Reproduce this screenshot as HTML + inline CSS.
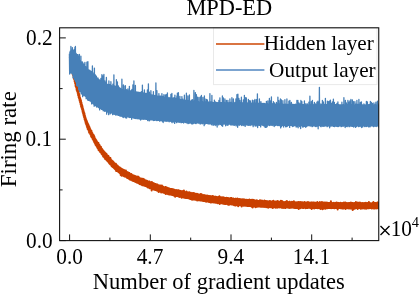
<!DOCTYPE html>
<html><head><meta charset="utf-8"><title>MPD-ED</title>
<style>
html,body{margin:0;padding:0;background:#fff;}
body{width:419px;height:294px;overflow:hidden;font-family:"Liberation Serif",serif;}
svg{display:block;position:absolute;left:0;top:0;will-change:transform;}
text{font-family:"Liberation Serif",serif;fill:#000;}
</style></head><body>
<svg width="419" height="294" viewBox="0 0 419 294">
<rect x="0" y="0" width="419" height="294" fill="#fff"/>
<defs><clipPath id="ax"><rect x="59.6" y="27.8" width="319.15" height="212.79999999999998"/></clipPath></defs>
<g clip-path="url(#ax)">
<path d="M69.90,56.6L70.15,61.5L70.40,58.6L70.65,64.4L70.90,60.6L71.15,66.3L71.40,63.3L71.65,68.2L71.90,65.5L72.15,70.5L72.40,67.6L72.65,74.3L72.90,69.9L73.15,75.4L73.40,72.3L73.65,77.6L73.90,74.4L74.15,79.2L74.40,75.8L74.65,81.5L74.90,78.2L75.15,83.4L75.40,80.0L75.65,86.3L75.90,82.0L76.15,87.4L76.40,84.2L76.65,90.0L76.90,85.7L77.15,91.2L77.40,88.1L77.65,93.0L77.90,89.8L78.15,95.3L78.40,91.6L78.65,97.1L78.90,93.3L79.15,98.7L79.40,95.1L79.65,100.7L79.90,97.4L80.15,102.4L80.40,98.9L80.65,104.4L80.90,100.2L81.15,106.7L81.40,102.4L81.65,107.9L81.90,104.6L82.15,109.8L82.40,106.0L82.65,111.9L82.90,108.3L83.15,113.6L83.40,110.0L83.65,115.6L83.90,112.1L84.15,117.5L84.40,113.2L84.65,119.4L84.90,115.6L85.15,120.9L85.40,117.3L85.65,123.0L85.90,118.9L86.15,124.3L86.40,120.3L86.65,125.6L86.90,121.3L87.15,127.2L87.40,122.7L87.65,128.9L87.90,123.8L88.15,129.4L88.40,124.7L88.65,130.8L88.90,126.0L89.15,132.6L89.40,127.0L89.65,132.7L89.90,128.3L90.15,134.0L90.40,129.4L90.65,134.7L90.90,130.4L91.15,136.4L91.40,130.8L91.65,137.1L91.90,132.4L92.15,137.8L92.40,133.2L92.65,138.9L92.90,134.4L93.15,139.7L93.40,134.8L93.65,140.8L93.90,135.6L94.15,141.9L94.40,136.8L94.65,142.6L94.90,138.2L95.15,143.6L95.40,139.0L95.65,144.9L95.90,139.8L96.15,145.5L96.40,140.6L96.65,146.3L96.90,141.6L97.15,147.1L97.40,142.3L97.65,148.2L97.90,142.9L98.15,148.6L98.40,142.9L98.65,150.1L98.90,144.4L99.15,150.5L99.40,144.8L99.65,151.0L99.90,146.0L100.15,151.9L100.40,146.6L100.65,152.3L100.90,146.8L101.15,152.9L101.40,148.2L101.65,154.0L101.90,148.8L102.15,154.4L102.40,149.6L102.65,155.0L102.90,150.2L103.15,156.4L103.40,150.8L103.65,156.2L103.90,151.4L104.15,157.1L104.40,152.0L104.65,157.9L104.90,152.5L105.15,159.0L105.40,153.1L105.65,159.2L105.90,153.6L106.15,159.3L106.40,153.7L106.65,160.1L106.90,154.9L107.15,160.6L107.40,155.2L107.65,161.1L107.90,156.3L108.15,161.7L108.40,155.9L108.65,162.2L108.90,157.2L109.15,163.1L109.40,157.4L109.65,163.6L109.90,158.5L110.15,164.3L110.40,158.0L110.65,164.6L110.90,159.6L111.15,165.0L111.40,160.2L111.65,166.3L111.90,160.6L112.15,166.2L112.40,161.1L112.65,166.9L112.90,161.7L113.15,167.2L113.40,161.8L113.65,167.6L113.90,162.7L114.15,168.2L114.40,163.1L114.65,168.7L114.90,163.7L115.15,169.1L115.40,164.1L115.65,169.6L115.90,163.8L116.15,170.9L116.40,164.8L116.65,171.0L116.90,165.2L117.15,170.9L117.40,165.5L117.65,171.2L117.90,166.1L118.15,171.7L118.40,166.7L118.65,172.1L118.90,167.0L119.15,172.5L119.40,167.3L119.65,173.0L119.90,167.5L120.15,173.1L120.40,168.0L120.65,175.0L120.90,168.3L121.15,175.3L121.40,168.8L121.65,175.8L121.90,169.1L122.15,175.4L122.40,169.4L122.65,174.8L122.90,169.5L123.15,175.6L123.40,169.8L123.65,176.0L123.90,169.9L124.15,175.9L124.40,170.7L124.65,176.6L124.90,170.6L125.15,176.6L125.40,170.8L125.65,176.6L125.90,170.5L126.15,176.9L126.40,171.8L126.65,177.3L126.90,171.9L127.15,177.9L127.40,172.4L127.65,177.8L127.90,172.3L128.15,178.3L128.40,172.7L128.65,178.3L128.90,173.1L129.15,178.9L129.40,173.0L129.65,178.9L129.90,173.7L130.15,179.7L130.40,174.0L130.65,179.6L130.90,174.2L131.15,179.7L131.40,174.1L131.65,179.9L131.90,174.7L132.15,180.4L132.40,174.9L132.65,180.7L132.90,175.2L133.15,180.6L133.40,175.5L133.65,181.1L133.90,175.4L134.15,181.0L134.40,176.0L134.65,181.4L134.90,176.1L135.15,181.7L135.40,176.3L135.65,182.0L135.90,176.3L136.15,182.1L136.40,176.7L136.65,182.5L136.90,177.0L137.15,182.7L137.40,177.2L137.65,182.7L137.90,176.6L138.15,183.0L138.40,177.4L138.65,183.2L138.90,177.2L139.15,183.3L139.40,178.1L139.65,184.1L139.90,178.2L140.15,184.2L140.40,178.4L140.65,184.0L140.90,178.6L141.15,184.3L141.40,178.7L141.65,184.6L141.90,178.7L142.15,185.3L142.40,179.1L142.65,185.2L142.90,178.8L143.15,185.0L143.40,179.8L143.65,185.3L143.90,179.4L144.15,185.6L144.40,179.5L144.65,185.7L144.90,180.3L145.15,185.9L145.40,180.6L145.65,185.9L145.90,180.6L146.15,186.3L146.40,181.0L146.65,186.4L146.90,180.7L147.15,186.8L147.40,181.4L147.65,187.1L147.90,181.4L148.15,187.6L148.40,181.7L148.65,187.2L148.90,181.5L149.15,187.5L149.40,181.5L149.65,188.2L149.90,182.1L150.15,188.3L150.40,182.5L150.65,188.2L150.90,182.6L151.15,188.5L151.40,182.6L151.65,190.4L151.90,182.0L152.15,188.7L152.40,183.0L152.65,188.8L152.90,183.0L153.15,188.8L153.40,183.4L153.65,189.5L153.90,183.3L154.15,189.8L154.40,184.1L154.65,189.8L154.90,184.1L155.15,189.8L155.40,184.0L155.65,190.1L155.90,184.6L156.15,190.0L156.40,184.7L156.65,190.4L156.90,184.2L157.15,190.3L157.40,184.5L157.65,190.5L157.90,185.2L158.15,191.1L158.40,185.4L158.65,191.9L158.90,185.2L159.15,191.2L159.40,185.6L159.65,191.6L159.90,185.8L160.15,191.4L160.40,185.4L160.65,191.5L160.90,186.1L161.15,192.5L161.40,185.7L161.65,191.9L161.90,185.4L162.15,192.1L162.40,186.5L162.65,192.3L162.90,186.9L163.15,192.5L163.40,186.7L163.65,192.7L163.90,187.2L164.15,192.6L164.40,187.4L164.65,192.9L164.90,187.5L165.15,193.1L165.40,187.1L165.65,194.0L165.90,187.0L166.15,193.3L166.40,187.9L166.65,193.8L166.90,188.0L167.15,193.4L167.40,187.8L167.65,193.8L167.90,188.2L168.15,194.3L168.40,188.2L168.65,194.1L168.90,188.4L169.15,194.5L169.40,188.5L169.65,194.2L169.90,188.7L170.15,194.3L170.40,189.0L170.65,194.6L170.90,189.1L171.15,194.8L171.40,189.1L171.65,194.8L171.90,189.3L172.15,195.0L172.40,189.2L172.65,195.1L172.90,189.3L173.15,195.3L173.40,189.6L173.65,195.2L173.90,189.6L174.15,195.7L174.40,189.9L174.65,195.3L174.90,190.0L175.15,196.8L175.40,190.2L175.65,195.6L175.90,190.2L176.15,195.9L176.40,190.2L176.65,195.9L176.90,190.3L177.15,195.9L177.40,190.5L177.65,196.0L177.90,190.2L178.15,196.1L178.40,190.3L178.65,196.6L178.90,190.6L179.15,196.5L179.40,190.8L179.65,196.9L179.90,190.8L180.15,196.7L180.40,191.2L180.65,196.8L180.90,191.0L181.15,196.7L181.40,191.4L181.65,197.7L181.90,191.5L182.15,197.0L182.40,191.5L182.65,197.3L182.90,191.7L183.15,197.3L183.40,190.8L183.65,197.4L183.90,190.4L184.15,197.8L184.40,191.8L184.65,197.6L184.90,192.1L185.15,197.5L185.40,192.2L185.65,197.9L185.90,192.2L186.15,198.0L186.40,191.5L186.65,198.0L186.90,192.1L187.15,198.0L187.40,192.2L187.65,198.0L187.90,192.6L188.15,198.2L188.40,192.4L188.65,198.1L188.90,192.9L189.15,198.2L189.40,192.3L189.65,198.7L189.90,193.0L190.15,198.7L190.40,193.0L190.65,199.1L190.90,192.7L191.15,198.6L191.40,193.1L191.65,199.4L191.90,193.4L192.15,199.7L192.40,193.5L192.65,199.1L192.90,193.1L193.15,199.6L193.40,193.7L193.65,199.1L193.90,193.0L194.15,199.5L194.40,193.5L194.65,199.2L194.90,193.9L195.15,199.8L195.40,193.7L195.65,199.6L195.90,194.0L196.15,199.8L196.40,194.2L196.65,199.6L196.90,193.8L197.15,200.5L197.40,194.4L197.65,199.8L197.90,194.4L198.15,199.8L198.40,194.4L198.65,200.2L198.90,194.5L199.15,200.2L199.40,194.7L199.65,200.1L199.90,194.4L200.15,200.5L200.40,194.9L200.65,200.5L200.90,194.1L201.15,200.4L201.40,194.8L201.65,200.5L201.90,194.6L202.15,200.8L202.40,195.1L202.65,200.6L202.90,195.2L203.15,200.9L203.40,195.3L203.65,200.7L203.90,195.1L204.15,201.0L204.40,195.4L204.65,200.9L204.90,195.4L205.15,201.2L205.40,195.6L205.65,201.2L205.90,195.8L206.15,201.7L206.40,195.7L206.65,201.2L206.90,195.8L207.15,201.5L207.40,195.7L207.65,201.3L207.90,195.8L208.15,201.4L208.40,195.9L208.65,201.6L208.90,196.1L209.15,202.1L209.40,196.3L209.65,201.8L209.90,196.1L210.15,202.0L210.40,196.3L210.65,202.4L210.90,196.3L211.15,202.5L211.40,196.5L211.65,201.9L211.90,196.4L212.15,201.9L212.40,195.9L212.65,202.2L212.90,196.4L213.15,202.3L213.40,196.5L213.65,202.2L213.90,196.6L214.15,202.6L214.40,196.7L214.65,202.5L214.90,196.9L215.15,202.4L215.40,196.7L215.65,202.8L215.90,196.8L216.15,202.7L216.40,197.2L216.65,202.7L216.90,197.2L217.15,203.0L217.40,197.3L217.65,203.3L217.90,197.4L218.15,202.8L218.40,197.0L218.65,202.8L218.90,197.3L219.15,203.0L219.40,196.2L219.65,203.9L219.90,197.0L220.15,203.0L220.40,197.4L220.65,203.2L220.90,197.4L221.15,203.2L221.40,197.6L221.65,203.3L221.90,197.5L222.15,203.2L222.40,197.4L222.65,203.5L222.90,197.4L223.15,203.7L223.40,197.4L223.65,203.7L223.90,197.4L224.15,203.4L224.40,197.8L224.65,203.4L224.90,198.1L225.15,204.1L225.40,197.9L225.65,203.7L225.90,197.9L226.15,203.8L226.40,197.8L226.65,203.8L226.90,198.2L227.15,204.1L227.40,197.9L227.65,203.7L227.90,198.3L228.15,204.7L228.40,198.3L228.65,204.1L228.90,198.2L229.15,204.8L229.40,198.4L229.65,204.0L229.90,198.5L230.15,204.0L230.40,198.4L230.65,204.3L230.90,198.0L231.15,204.2L231.40,198.0L231.65,204.5L231.90,198.7L232.15,204.5L232.40,198.8L232.65,204.3L232.90,198.6L233.15,204.7L233.40,198.5L233.65,204.3L233.90,198.8L234.15,205.2L234.40,198.9L234.65,204.6L234.90,199.1L235.15,204.7L235.40,198.7L235.65,205.6L235.90,198.8L236.15,204.5L236.40,199.0L236.65,204.9L236.90,199.2L237.15,204.7L237.40,198.6L237.65,204.9L237.90,199.1L238.15,206.2L238.40,199.4L238.65,205.1L238.90,199.1L239.15,205.0L239.40,199.4L239.65,205.3L239.90,198.9L240.15,205.2L240.40,199.2L240.65,205.1L240.90,199.5L241.15,205.0L241.40,199.4L241.65,206.5L241.90,199.6L242.15,205.5L242.40,199.4L242.65,205.4L242.90,199.2L243.15,205.4L243.40,199.9L243.65,205.7L243.90,199.6L244.15,205.7L244.40,199.4L244.65,205.3L244.90,199.9L245.15,205.6L245.40,200.0L245.65,205.8L245.90,199.8L246.15,205.5L246.40,200.1L246.65,205.6L246.90,199.8L247.15,206.0L247.40,200.2L247.65,206.0L247.90,200.1L248.15,205.8L248.40,200.0L248.65,206.0L248.90,199.9L249.15,205.8L249.40,199.5L249.65,206.1L249.90,199.8L250.15,205.8L250.40,200.3L250.65,205.9L250.90,200.2L251.15,206.3L251.40,200.4L251.65,206.7L251.90,199.8L252.15,205.9L252.40,200.6L252.65,207.4L252.90,199.7L253.15,206.4L253.40,200.5L253.65,206.1L253.90,200.3L254.15,206.2L254.40,200.3L254.65,206.6L254.90,200.4L255.15,206.2L255.40,200.7L255.65,207.2L255.90,200.4L256.15,206.4L256.40,200.8L256.65,206.2L256.90,200.2L257.15,206.8L257.40,200.9L257.65,206.5L257.90,201.0L258.15,206.3L258.40,200.9L258.65,206.6L258.90,200.9L259.15,206.5L259.40,200.7L259.65,206.3L259.90,200.3L260.15,206.4L260.40,200.5L260.65,206.7L260.90,200.6L261.15,206.6L261.40,200.8L261.65,206.8L261.90,200.8L262.15,206.8L262.40,200.8L262.65,206.8L262.90,200.9L263.15,206.8L263.40,201.2L263.65,206.7L263.90,201.3L264.15,206.9L264.40,200.6L264.65,206.6L264.90,201.0L265.15,206.6L265.40,201.0L265.65,206.8L265.90,201.3L266.15,207.3L266.40,201.3L266.65,206.9L266.90,201.0L267.15,206.7L267.40,201.3L267.65,206.9L267.90,201.4L268.15,207.8L268.40,201.5L268.65,206.9L268.90,201.5L269.15,207.2L269.40,201.5L269.65,206.9L269.90,201.1L270.15,207.0L270.40,201.5L270.65,207.2L270.90,201.6L271.15,207.2L271.40,201.7L271.65,206.9L271.90,201.6L272.15,206.9L272.40,201.5L272.65,207.9L272.90,201.8L273.15,207.7L273.40,200.8L273.65,207.0L273.90,201.7L274.15,207.0L274.40,201.8L274.65,207.2L274.90,201.7L275.15,207.1L275.40,201.8L275.65,207.7L275.90,201.4L276.15,207.1L276.40,201.8L276.65,207.6L276.90,201.9L277.15,207.7L277.40,201.0L277.65,207.2L277.90,201.2L278.15,207.2L278.40,201.9L278.65,207.1L278.90,201.4L279.15,207.4L279.40,201.7L279.65,207.3L279.90,201.9L280.15,207.2L280.40,202.0L280.65,207.2L280.90,200.7L281.15,207.4L281.40,202.1L281.65,207.7L281.90,201.2L282.15,207.3L282.40,201.2L282.65,207.2L282.90,201.8L283.15,207.9L283.40,201.9L283.65,207.4L283.90,202.2L284.15,207.6L284.40,202.2L284.65,207.3L284.90,202.1L285.15,208.1L285.40,201.7L285.65,207.3L285.90,202.1L286.15,207.4L286.40,202.3L286.65,207.5L286.90,201.1L287.15,207.4L287.40,202.3L287.65,207.4L287.90,202.0L288.15,207.3L288.40,202.2L288.65,207.5L288.90,202.1L289.15,207.9L289.40,201.8L289.65,207.4L289.90,201.8L290.15,207.5L290.40,202.4L290.65,207.8L290.90,202.4L291.15,207.7L291.40,202.3L291.65,207.6L291.90,201.7L292.15,207.5L292.40,202.5L292.65,207.5L292.90,202.3L293.15,207.7L293.40,202.4L293.65,207.5L293.90,201.3L294.15,207.7L294.40,202.5L294.65,207.9L294.90,202.4L295.15,207.9L295.40,202.4L295.65,207.6L295.90,202.4L296.15,208.0L296.40,202.6L296.65,207.9L296.90,202.6L297.15,207.7L297.40,202.4L297.65,207.9L297.90,202.5L298.15,208.1L298.40,201.9L298.65,209.0L298.90,202.5L299.15,207.8L299.40,202.2L299.65,207.7L299.90,202.3L300.15,208.3L300.40,202.5L300.65,207.6L300.90,202.1L301.15,207.7L301.40,202.7L301.65,207.6L301.90,202.6L302.15,207.7L302.40,202.3L302.65,207.8L302.90,202.5L303.15,208.1L303.40,202.8L303.65,207.6L303.90,202.5L304.15,207.8L304.40,201.9L304.65,207.8L304.90,202.6L305.15,207.8L305.40,202.7L305.65,208.3L305.90,202.6L306.15,208.1L306.40,202.6L306.65,207.8L306.90,202.8L307.15,207.7L307.40,202.6L307.65,208.0L307.90,202.1L308.15,207.7L308.40,202.9L308.65,207.8L308.90,202.8L309.15,207.8L309.40,202.7L309.65,207.7L309.90,202.8L310.15,207.9L310.40,202.7L310.65,207.9L310.90,202.9L311.15,207.9L311.40,202.4L311.65,208.9L311.90,202.5L312.15,208.0L312.40,202.7L312.65,208.1L312.90,202.5L313.15,207.9L313.40,202.6L313.65,207.9L313.90,202.9L314.15,208.5L314.40,202.8L314.65,207.8L314.90,202.7L315.15,207.9L315.40,202.7L315.65,208.1L315.90,202.9L316.15,208.0L316.40,202.8L316.65,208.1L316.90,203.0L317.15,208.0L317.40,201.9L317.65,208.3L317.90,203.0L318.15,207.9L318.40,203.1L318.65,208.0L318.90,203.0L319.15,208.2L319.40,203.1L319.65,207.9L319.90,202.0L320.15,208.3L320.40,202.7L320.65,208.9L320.90,202.9L321.15,207.9L321.40,203.1L321.65,208.4L321.90,202.0L322.15,208.3L322.40,202.3L322.65,209.3L322.90,202.8L323.15,208.2L323.40,202.8L323.65,208.3L323.90,203.0L324.15,208.4L324.40,202.4L324.65,208.1L324.90,202.8L325.15,208.4L325.40,202.9L325.65,208.8L325.90,202.4L326.15,208.0L326.40,203.2L326.65,207.9L326.90,202.7L327.15,207.9L327.40,202.7L327.65,208.2L327.90,203.1L328.15,208.0L328.40,203.0L328.65,207.9L328.90,203.2L329.15,208.1L329.40,203.0L329.65,208.0L329.90,203.0L330.15,208.1L330.40,203.0L330.65,208.1L330.90,201.2L331.15,208.2L331.40,203.2L331.65,208.0L331.90,203.2L332.15,208.0L332.40,203.1L332.65,208.1L332.90,203.3L333.15,208.1L333.40,203.1L333.65,208.0L333.90,202.8L334.15,208.3L334.40,202.9L334.65,208.3L334.90,203.3L335.15,208.0L335.40,203.1L335.65,208.0L335.90,203.2L336.15,207.9L336.40,202.6L336.65,208.0L336.90,202.9L337.15,208.1L337.40,203.1L337.65,209.5L337.90,202.8L338.15,208.0L338.40,203.1L338.65,208.0L338.90,203.0L339.15,208.1L339.40,203.3L339.65,208.0L339.90,203.2L340.15,208.0L340.40,202.8L340.65,208.3L340.90,203.3L341.15,208.1L341.40,203.2L341.65,208.0L341.90,203.1L342.15,208.4L342.40,203.3L342.65,208.2L342.90,203.1L343.15,208.4L343.40,203.1L343.65,208.4L343.90,202.6L344.15,208.0L344.40,203.3L344.65,208.1L344.90,203.1L345.15,208.2L345.40,202.4L345.65,208.9L345.90,202.9L346.15,208.1L346.40,203.2L346.65,208.0L346.90,203.0L347.15,208.1L347.40,203.2L347.65,208.0L347.90,203.2L348.15,208.4L348.40,203.3L348.65,208.0L348.90,202.9L349.15,208.2L349.40,203.0L349.65,208.2L349.90,203.1L350.15,208.6L350.40,203.3L350.65,208.1L350.90,202.5L351.15,208.0L351.40,203.2L351.65,208.5L351.90,202.9L352.15,208.1L352.40,202.9L352.65,209.9L352.90,203.4L353.15,208.0L353.40,203.3L353.65,209.2L353.90,203.3L354.15,208.1L354.40,202.9L354.65,208.2L354.90,203.3L355.15,208.5L355.40,203.3L355.65,208.0L355.90,202.1L356.15,208.0L356.40,203.1L356.65,208.0L356.90,202.9L357.15,208.3L357.40,202.7L357.65,209.0L357.90,202.5L358.15,208.1L358.40,203.4L358.65,208.0L358.90,203.3L359.15,208.0L359.40,203.2L359.65,208.0L359.90,202.4L360.15,208.2L360.40,203.3L360.65,208.8L360.90,203.3L361.15,208.1L361.40,203.2L361.65,208.5L361.90,203.3L362.15,208.4L362.40,203.0L362.65,208.1L362.90,203.2L363.15,208.0L363.40,203.2L363.65,208.2L363.90,203.3L364.15,208.5L364.40,202.9L364.65,208.6L364.90,203.4L365.15,208.3L365.40,203.1L365.65,208.1L365.90,202.8L366.15,208.7L366.40,203.3L366.65,208.1L366.90,203.2L367.15,208.2L367.40,203.0L367.65,208.2L367.90,203.3L368.15,208.1L368.40,203.3L368.65,208.2L368.90,202.0L369.15,208.2L369.40,203.4L369.65,208.1L369.90,203.3L370.15,208.1L370.40,203.2L370.65,208.0L370.90,203.4L371.15,208.1L371.40,203.4L371.65,208.4L371.90,203.3L372.15,208.0L372.40,202.9L372.65,208.2L372.90,203.3L373.15,208.2L373.40,202.0L373.65,208.4L373.90,203.4L374.15,208.1L374.40,203.3L374.65,208.4L374.90,202.9L375.15,208.0L375.40,203.0L375.65,208.3L375.90,203.1L376.15,208.4L376.40,203.2L376.65,208.1L376.90,203.2L377.15,208.1L377.40,202.6L377.65,208.0L377.90,202.5L378.15,208.4L378.40,203.3L378.65,208.0L378.90,203.0L379.15,208.3" fill="none" stroke="#c94000" stroke-width="2.0" stroke-linejoin="round"/>
<path d="M69.40,53.8L69.65,74.1L69.90,52.0L70.15,73.0L70.40,50.9L70.65,72.7L70.90,46.4L71.15,72.9L71.40,49.9L71.65,73.0L71.90,49.9L72.15,73.6L72.40,47.6L72.65,74.4L72.90,50.1L73.15,77.9L73.40,50.2L73.65,76.8L73.90,50.5L74.15,77.8L74.40,49.4L74.65,79.8L74.90,47.4L75.15,80.1L75.40,46.4L75.65,81.5L75.90,53.1L76.15,82.2L76.40,53.8L76.65,85.5L76.90,54.4L77.15,83.9L77.40,54.7L77.65,85.9L77.90,54.7L78.15,86.7L78.40,56.1L78.65,89.7L78.90,56.9L79.15,89.3L79.40,54.3L79.65,91.7L79.90,60.3L80.15,90.9L80.40,61.0L80.65,91.6L80.90,56.2L81.15,94.1L81.40,61.7L81.65,93.1L81.90,62.4L82.15,93.5L82.40,61.9L82.65,96.7L82.90,62.8L83.15,94.7L83.40,64.1L83.65,95.0L83.90,64.2L84.15,95.7L84.40,65.8L84.65,95.6L84.90,62.5L85.15,96.0L85.40,66.6L85.65,96.6L85.90,67.0L86.15,98.8L86.40,68.0L86.65,97.6L86.90,62.1L87.15,98.4L87.40,68.9L87.65,100.1L87.90,61.6L88.15,99.2L88.40,69.8L88.65,100.4L88.90,69.8L89.15,100.6L89.40,70.3L89.65,100.5L89.90,70.5L90.15,100.9L90.40,71.0L90.65,101.2L90.90,71.5L91.15,101.8L91.40,71.5L91.65,103.9L91.90,72.4L92.15,102.6L92.40,66.0L92.65,103.1L92.90,72.7L93.15,103.7L93.40,73.9L93.65,104.2L93.90,74.6L94.15,106.3L94.40,68.1L94.65,105.3L94.90,75.8L95.15,105.4L95.40,75.0L95.65,105.7L95.90,76.2L96.15,105.9L96.40,76.2L96.65,107.0L96.90,78.0L97.15,106.7L97.40,78.7L97.65,106.9L97.90,77.9L98.15,106.9L98.40,79.0L98.65,107.7L98.90,79.5L99.15,107.5L99.40,80.1L99.65,109.9L99.90,80.1L100.15,108.1L100.40,80.4L100.65,108.4L100.90,78.5L101.15,108.7L101.40,80.8L101.65,109.4L101.90,74.6L102.15,109.4L102.40,80.6L102.65,109.6L102.90,75.8L103.15,110.8L103.40,81.6L103.65,110.2L103.90,74.5L104.15,110.6L104.40,82.1L104.65,111.3L104.90,80.8L105.15,111.1L105.40,82.5L105.65,110.9L105.90,83.3L106.15,111.3L106.40,77.5L106.65,114.2L106.90,84.0L107.15,112.5L107.40,84.4L107.65,111.6L107.90,84.7L108.15,111.7L108.40,85.0L108.65,114.7L108.90,81.0L109.15,112.1L109.40,85.3L109.65,112.1L109.90,84.7L110.15,113.9L110.40,85.6L110.65,112.3L110.90,81.7L111.15,113.0L111.40,85.7L111.65,112.7L111.90,86.0L112.15,113.0L112.40,85.9L112.65,114.7L112.90,84.2L113.15,113.3L113.40,86.0L113.65,114.0L113.90,74.8L114.15,113.4L114.40,86.0L114.65,114.3L114.90,86.2L115.15,113.9L115.40,86.3L115.65,115.1L115.90,86.5L116.15,114.3L116.40,79.7L116.65,114.9L116.90,86.7L117.15,114.8L117.40,81.8L117.65,115.0L117.90,86.8L118.15,115.0L118.40,85.9L118.65,115.4L118.90,87.2L119.15,115.6L119.40,88.1L119.65,115.4L119.90,87.9L120.15,116.2L120.40,88.3L120.65,115.6L120.90,88.9L121.15,116.1L121.40,89.0L121.65,115.8L121.90,79.2L122.15,116.5L122.40,89.6L122.65,116.0L122.90,89.6L123.15,117.6L123.40,84.9L123.65,116.2L123.90,85.9L124.15,117.0L124.40,89.9L124.65,116.8L124.90,90.3L125.15,116.5L125.40,85.7L125.65,117.8L125.90,90.4L126.15,116.6L126.40,89.6L126.65,118.0L126.90,90.1L127.15,116.7L127.40,90.6L127.65,116.6L127.90,88.8L128.15,116.9L128.40,90.7L128.65,116.8L128.90,90.7L129.15,117.5L129.40,86.3L129.65,117.0L129.90,91.3L130.15,117.4L130.40,91.0L130.65,117.3L130.90,91.2L131.15,117.2L131.40,90.3L131.65,119.3L131.90,89.3L132.15,117.4L132.40,91.0L132.65,117.6L132.90,84.8L133.15,117.8L133.40,91.5L133.65,118.0L133.90,80.9L134.15,118.1L134.40,91.8L134.65,118.3L134.90,92.0L135.15,118.4L135.40,85.4L135.65,118.1L135.90,92.1L136.15,118.7L136.40,92.2L136.65,118.0L136.90,91.9L137.15,118.1L137.40,92.3L137.65,118.7L137.90,92.2L138.15,118.9L138.40,92.3L138.65,118.3L138.90,92.5L139.15,118.4L139.40,92.5L139.65,119.1L139.90,92.7L140.15,118.6L140.40,92.4L140.65,120.1L140.90,92.7L141.15,119.0L141.40,91.7L141.65,119.0L141.90,92.9L142.15,118.8L142.40,85.1L142.65,119.2L142.90,93.0L143.15,119.1L143.40,93.1L143.65,119.3L143.90,92.6L144.15,119.1L144.40,90.0L144.65,119.2L144.90,93.2L145.15,119.3L145.40,93.4L145.65,119.2L145.90,93.6L146.15,119.3L146.40,93.4L146.65,119.4L146.90,93.4L147.15,119.5L147.40,90.0L147.65,120.5L147.90,94.0L148.15,119.5L148.40,83.8L148.65,119.9L148.90,94.2L149.15,120.9L149.40,92.1L149.65,120.6L149.90,94.0L150.15,119.9L150.40,94.3L150.65,119.7L150.90,90.7L151.15,119.7L151.40,94.8L151.65,119.9L151.90,95.1L152.15,119.9L152.40,95.1L152.65,119.9L152.90,95.0L153.15,120.2L153.40,91.6L153.65,120.5L153.90,95.6L154.15,120.1L154.40,95.3L154.65,120.4L154.90,95.6L155.15,120.1L155.40,96.0L155.65,120.2L155.90,82.9L156.15,120.2L156.40,96.1L156.65,120.5L156.90,90.6L157.15,120.5L157.40,95.9L157.65,120.3L157.90,96.3L158.15,120.4L158.40,96.2L158.65,120.4L158.90,93.6L159.15,120.4L159.40,96.2L159.65,121.2L159.90,96.2L160.15,120.7L160.40,96.1L160.65,120.5L160.90,96.5L161.15,120.7L161.40,97.1L161.65,120.8L161.90,93.6L162.15,120.7L162.40,97.1L162.65,121.6L162.90,96.4L163.15,122.6L163.40,97.0L163.65,120.9L163.90,94.7L164.15,121.0L164.40,97.4L164.65,120.8L164.90,97.2L165.15,120.9L165.40,94.8L165.65,121.2L165.90,97.6L166.15,121.3L166.40,94.7L166.65,121.0L166.90,97.7L167.15,121.1L167.40,92.9L167.65,121.1L167.90,98.0L168.15,121.1L168.40,98.1L168.65,121.1L168.90,97.5L169.15,121.8L169.40,98.0L169.65,121.2L169.90,98.0L170.15,121.2L170.40,98.1L170.65,121.3L170.90,94.3L171.15,121.4L171.40,98.3L171.65,122.1L171.90,93.5L172.15,122.7L172.40,98.3L172.65,121.3L172.90,98.2L173.15,121.3L173.40,98.7L173.65,122.1L173.90,97.7L174.15,121.5L174.40,98.9L174.65,123.4L174.90,95.1L175.15,121.6L175.40,99.0L175.65,121.6L175.90,98.4L176.15,121.8L176.40,98.1L176.65,122.7L176.90,96.0L177.15,122.1L177.40,93.1L177.65,121.8L177.90,99.5L178.15,121.9L178.40,92.7L178.65,122.2L178.90,99.0L179.15,121.9L179.40,99.7L179.65,122.3L179.90,96.3L180.15,122.1L180.40,99.7L180.65,121.9L180.90,99.6L181.15,122.8L181.40,100.1L181.65,122.0L181.90,96.6L182.15,122.3L182.40,100.2L182.65,122.3L182.90,99.1L183.15,122.1L183.40,100.4L183.65,123.1L183.90,100.4L184.15,122.1L184.40,95.1L184.65,122.1L184.90,99.9L185.15,122.3L185.40,100.4L185.65,122.5L185.90,100.5L186.15,122.3L186.40,93.2L186.65,122.4L186.90,100.4L187.15,123.6L187.40,100.8L187.65,122.3L187.90,96.0L188.15,122.6L188.40,100.5L188.65,123.6L188.90,100.9L189.15,122.3L189.40,95.0L189.65,123.0L189.90,101.1L190.15,122.7L190.40,101.1L190.65,123.0L190.90,101.2L191.15,122.4L191.40,100.2L191.65,123.8L191.90,101.3L192.15,124.1L192.40,99.6L192.65,122.5L192.90,101.0L193.15,123.7L193.40,101.4L193.65,123.2L193.90,90.5L194.15,122.8L194.40,100.5L194.65,122.9L194.90,101.0L195.15,123.5L195.40,92.6L195.65,122.7L195.90,101.3L196.15,123.5L196.40,94.6L196.65,122.8L196.90,101.5L197.15,122.8L197.40,97.1L197.65,122.8L197.90,101.5L198.15,123.0L198.40,101.7L198.65,122.8L198.90,97.4L199.15,123.2L199.40,101.8L199.65,122.9L199.90,101.9L200.15,124.0L200.40,96.9L200.65,123.3L200.90,101.9L201.15,123.7L201.40,95.4L201.65,123.0L201.90,102.0L202.15,123.1L202.40,101.5L202.65,123.8L202.90,97.4L203.15,123.1L203.40,101.9L203.65,123.1L203.90,102.1L204.15,125.7L204.40,95.9L204.65,123.5L204.90,98.7L205.15,124.1L205.40,102.1L205.65,123.3L205.90,101.7L206.15,123.3L206.40,99.3L206.65,123.3L206.90,102.3L207.15,123.2L207.40,99.9L207.65,123.6L207.90,101.7L208.15,123.9L208.40,102.2L208.65,123.6L208.90,102.5L209.15,123.8L209.40,102.1L209.65,123.4L209.90,93.6L210.15,124.0L210.40,102.5L210.65,123.5L210.90,101.9L211.15,123.5L211.40,102.4L211.65,124.8L211.90,95.4L212.15,123.6L212.40,102.6L212.65,123.9L212.90,102.5L213.15,125.4L213.40,102.6L213.65,123.7L213.90,102.5L214.15,124.3L214.40,100.1L214.65,123.6L214.90,102.6L215.15,125.6L215.40,101.8L215.65,123.6L215.90,102.6L216.15,124.8L216.40,102.6L216.65,124.0L216.90,102.4L217.15,127.1L217.40,102.8L217.65,124.0L217.90,102.7L218.15,123.8L218.40,102.6L218.65,124.9L218.90,100.5L219.15,123.8L219.40,101.9L219.65,123.8L219.90,97.8L220.15,124.6L220.40,102.6L220.65,124.4L220.90,102.8L221.15,123.8L221.40,102.7L221.65,125.5L221.90,102.8L222.15,124.0L222.40,96.0L222.65,126.3L222.90,102.9L223.15,124.0L223.40,98.0L223.65,124.1L223.90,102.5L224.15,123.9L224.40,102.4L224.65,124.1L224.90,99.0L225.15,124.1L225.40,102.7L225.65,125.8L225.90,102.9L226.15,124.0L226.40,100.3L226.65,124.2L226.90,102.4L227.15,125.3L227.40,102.6L227.65,124.1L227.90,100.4L228.15,125.0L228.40,103.0L228.65,124.1L228.90,102.8L229.15,124.1L229.40,102.6L229.65,124.2L229.90,98.9L230.15,124.3L230.40,102.4L230.65,124.9L230.90,102.4L231.15,124.9L231.40,103.0L231.65,124.4L231.90,97.7L232.15,125.1L232.40,103.1L232.65,124.4L232.90,102.8L233.15,124.6L233.40,99.0L233.65,125.2L233.90,103.1L234.15,124.4L234.40,102.8L234.65,125.3L234.90,102.4L235.15,124.6L235.40,103.1L235.65,124.3L235.90,99.0L236.15,125.9L236.40,102.8L236.65,124.8L236.90,94.7L237.15,124.5L237.40,103.1L237.65,127.3L237.90,94.2L238.15,124.4L238.40,102.5L238.65,124.4L238.90,98.4L239.15,125.4L239.40,103.2L239.65,124.5L239.90,100.4L240.15,124.7L240.40,102.3L240.65,124.6L240.90,103.0L241.15,124.5L241.40,97.2L241.65,125.6L241.90,102.4L242.15,124.6L242.40,103.0L242.65,124.7L242.90,103.0L243.15,125.5L243.40,100.0L243.65,124.8L243.90,103.0L244.15,125.1L244.40,95.5L244.65,124.6L244.90,103.1L245.15,126.4L245.40,97.7L245.65,124.9L245.90,103.0L246.15,124.6L246.40,98.0L246.65,124.8L246.90,102.6L247.15,124.9L247.40,103.3L247.65,125.0L247.90,102.9L248.15,125.4L248.40,99.3L248.65,124.7L248.90,103.2L249.15,125.0L249.40,100.6L249.65,125.0L249.90,103.1L250.15,125.5L250.40,100.8L250.65,124.9L250.90,103.2L251.15,124.8L251.40,103.3L251.65,124.8L251.90,103.2L252.15,124.9L252.40,100.2L252.65,124.8L252.90,103.1L253.15,126.7L253.40,102.9L253.65,125.1L253.90,100.6L254.15,124.8L254.40,102.9L254.65,124.9L254.90,99.5L255.15,126.1L255.40,102.9L255.65,125.0L255.90,103.4L256.15,126.0L256.40,99.7L256.65,124.9L256.90,103.2L257.15,125.0L257.40,93.8L257.65,127.6L257.90,103.0L258.15,125.4L258.40,103.4L258.65,125.2L258.90,103.6L259.15,125.2L259.40,99.0L259.65,125.4L259.90,103.0L260.15,125.0L260.40,103.1L260.65,126.9L260.90,101.6L261.15,124.9L261.40,103.7L261.65,124.9L261.90,103.4L262.15,125.1L262.40,103.6L262.65,125.1L262.90,103.5L263.15,125.6L263.40,103.3L263.65,125.3L263.90,103.7L264.15,126.1L264.40,103.5L264.65,125.4L264.90,103.8L265.15,127.4L265.40,103.8L265.65,125.4L265.90,103.6L266.15,127.4L266.40,101.3L266.65,125.2L266.90,103.6L267.15,126.7L267.40,103.4L267.65,125.1L267.90,100.8L268.15,125.0L268.40,103.9L268.65,125.1L268.90,103.8L269.15,125.1L269.40,98.4L269.65,125.6L269.90,103.9L270.15,125.2L270.40,101.0L270.65,125.2L270.90,103.9L271.15,125.1L271.40,96.9L271.65,125.1L271.90,103.9L272.15,125.6L272.40,104.0L272.65,125.1L272.90,103.6L273.15,125.2L273.40,101.6L273.65,125.2L273.90,103.7L274.15,126.5L274.40,103.0L274.65,125.4L274.90,104.2L275.15,125.6L275.40,104.1L275.65,125.3L275.90,104.2L276.15,125.2L276.40,102.4L276.65,125.2L276.90,103.6L277.15,125.2L277.40,104.0L277.65,125.6L277.90,97.1L278.15,125.5L278.40,104.3L278.65,125.2L278.90,100.7L279.15,125.6L279.40,103.6L279.65,125.5L279.90,104.2L280.15,125.2L280.40,98.9L280.65,127.9L280.90,104.2L281.15,125.6L281.40,99.8L281.65,126.5L281.90,104.2L282.15,125.2L282.40,103.9L282.65,125.3L282.90,100.7L283.15,125.4L283.40,104.3L283.65,127.1L283.90,104.3L284.15,125.2L284.40,104.4L284.65,125.4L284.90,99.7L285.15,125.6L285.40,104.1L285.65,126.8L285.90,104.5L286.15,125.3L286.40,104.4L286.65,126.7L286.90,99.0L287.15,125.5L287.40,104.4L287.65,126.0L287.90,104.5L288.15,125.4L288.40,104.3L288.65,125.4L288.90,101.1L289.15,125.3L289.40,104.4L289.65,127.4L289.90,100.3L290.15,125.3L290.40,104.4L290.65,125.4L290.90,104.0L291.15,125.4L291.40,102.4L291.65,125.4L291.90,104.3L292.15,126.0L292.40,104.5L292.65,126.5L292.90,104.5L293.15,125.6L293.40,104.6L293.65,126.1L293.90,104.4L294.15,125.4L294.40,104.6L294.65,125.5L294.90,104.7L295.15,125.5L295.40,104.1L295.65,125.4L295.90,104.7L296.15,127.0L296.40,104.4L296.65,125.4L296.90,100.3L297.15,126.7L297.40,104.6L297.65,125.4L297.90,100.5L298.15,127.8L298.40,104.6L298.65,125.7L298.90,102.8L299.15,125.4L299.40,104.7L299.65,126.5L299.90,104.0L300.15,125.5L300.40,104.5L300.65,128.5L300.90,100.5L301.15,125.4L301.40,104.4L301.65,125.6L301.90,101.6L302.15,125.9L302.40,104.6L302.65,127.1L302.90,104.7L303.15,125.5L303.40,104.8L303.65,126.8L303.90,104.7L304.15,125.4L304.40,101.0L304.65,126.3L304.90,104.7L305.15,125.8L305.40,104.8L305.65,127.3L305.90,103.7L306.15,125.8L306.40,104.8L306.65,126.5L306.90,104.8L307.15,125.9L307.40,103.8L307.65,125.6L307.90,104.8L308.15,125.6L308.40,104.8L308.65,125.6L308.90,102.1L309.15,125.6L309.40,104.6L309.65,125.6L309.90,96.2L310.15,126.0L310.40,104.5L310.65,125.6L310.90,104.5L311.15,125.9L311.40,101.6L311.65,125.6L311.90,104.3L312.15,126.7L312.40,100.3L312.65,126.3L312.90,104.2L313.15,125.6L313.40,104.6L313.65,125.9L313.90,104.9L314.15,125.5L314.40,102.5L314.65,125.7L314.90,104.6L315.15,126.6L315.40,104.0L315.65,125.7L315.90,104.9L316.15,126.6L316.40,104.1L316.65,125.6L316.90,102.2L317.15,126.2L317.40,104.9L317.65,125.6L317.90,101.1L318.15,128.8L318.40,104.8L318.65,125.6L318.90,102.5L319.15,125.6L319.40,87.3L319.65,125.7L319.90,105.0L320.15,125.6L320.40,104.9L320.65,126.6L320.90,104.0L321.15,126.7L321.40,104.7L321.65,125.6L321.90,104.5L322.15,125.7L322.40,100.3L322.65,126.3L322.90,104.7L323.15,125.8L323.40,101.9L323.65,126.3L323.90,104.5L324.15,125.7L324.40,104.3L324.65,126.0L324.90,104.3L325.15,126.0L325.40,98.3L325.65,125.6L325.90,104.5L326.15,125.7L326.40,104.6L326.65,126.1L326.90,104.6L327.15,126.7L327.40,101.2L327.65,125.8L327.90,103.8L328.15,126.2L328.40,101.6L328.65,125.6L328.90,104.2L329.15,125.7L329.40,101.2L329.65,127.8L329.90,104.7L330.15,125.7L330.40,100.1L330.65,126.2L330.90,104.8L331.15,126.0L331.40,103.5L331.65,125.8L331.90,104.5L332.15,125.9L332.40,101.8L332.65,125.8L332.90,105.0L333.15,126.2L333.40,99.2L333.65,126.4L333.90,104.1L334.15,126.6L334.40,102.3L334.65,126.6L334.90,104.7L335.15,126.1L335.40,105.0L335.65,126.0L335.90,104.6L336.15,125.7L336.40,105.1L336.65,126.3L336.90,103.4L337.15,125.7L337.40,104.7L337.65,126.6L337.90,101.9L338.15,125.8L338.40,104.6L338.65,126.6L338.90,105.0L339.15,125.8L339.40,104.8L339.65,125.8L339.90,104.8L340.15,125.7L340.40,105.0L340.65,125.9L340.90,105.0L341.15,126.7L341.40,104.8L341.65,126.3L341.90,102.2L342.15,126.1L342.40,104.8L342.65,125.9L342.90,105.0L343.15,126.3L343.40,104.6L343.65,125.7L343.90,97.7L344.15,125.8L344.40,104.9L344.65,125.9L344.90,104.8L345.15,127.6L345.40,100.4L345.65,126.0L345.90,105.0L346.15,126.3L346.40,102.9L346.65,125.8L346.90,104.4L347.15,126.7L347.40,104.6L347.65,126.1L347.90,100.3L348.15,125.9L348.40,105.0L348.65,126.0L348.90,102.1L349.15,126.7L349.40,104.8L349.65,126.7L349.90,100.8L350.15,125.9L350.40,104.6L350.65,125.9L350.90,99.4L351.15,126.2L351.40,105.1L351.65,125.8L351.90,104.4L352.15,126.4L352.40,100.0L352.65,126.4L352.90,105.0L353.15,125.8L353.40,101.6L353.65,127.1L353.90,105.0L354.15,125.8L354.40,105.1L354.65,125.8L354.90,101.7L355.15,126.8L355.40,105.1L355.65,127.4L355.90,104.2L356.15,126.1L356.40,104.9L356.65,126.4L356.90,100.3L357.15,125.8L357.40,105.1L357.65,125.8L357.90,104.5L358.15,125.9L358.40,105.1L358.65,126.7L358.90,99.5L359.15,125.8L359.40,105.1L359.65,126.0L359.90,104.1L360.15,126.5L360.40,102.4L360.65,125.9L360.90,105.1L361.15,125.8L361.40,101.8L361.65,127.6L361.90,105.1L362.15,126.4L362.40,104.8L362.65,126.9L362.90,105.1L363.15,125.9L363.40,105.2L363.65,125.8L363.90,104.0L364.15,125.8L364.40,104.8L364.65,126.5L364.90,104.8L365.15,126.6L365.40,105.1L365.65,125.9L365.90,105.2L366.15,126.0L366.40,101.5L366.65,126.6L366.90,105.0L367.15,125.8L367.40,102.0L367.65,126.1L367.90,104.6L368.15,126.0L368.40,104.7L368.65,126.9L368.90,104.9L369.15,126.8L369.40,104.4L369.65,126.1L369.90,105.2L370.15,126.8L370.40,101.3L370.65,125.8L370.90,104.7L371.15,125.9L371.40,102.3L371.65,125.8L371.90,104.9L372.15,125.9L372.40,103.4L372.65,125.8L372.90,105.0L373.15,126.3L373.40,105.2L373.65,126.7L373.90,102.9L374.15,125.8L374.40,105.0L374.65,126.0L374.90,104.6L375.15,126.2L375.40,104.2L375.65,125.8L375.90,102.2L376.15,126.5L376.40,105.0L376.65,125.9L376.90,105.2L377.15,126.1L377.40,101.2L377.65,125.8L377.90,103.7L378.15,125.8L378.40,105.2L378.65,127.1L378.90,104.9L379.15,126.4" fill="none" stroke="#4780b8" stroke-width="1.3" stroke-linejoin="round"/>
</g>
<!-- legend -->
<rect x="213.5" y="27.8" width="163.5" height="56.8" fill="#fff" fill-opacity="0.8" stroke="#e9e9e9" stroke-width="1"/>
<rect x="216" y="43" width="48.4" height="2" fill="#d97442"/>
<rect x="216" y="69" width="48.4" height="2" fill="#7ca4d0"/>
<text x="263.7" y="50.3" font-size="21.2">Hidden layer</text>
<text x="269.1" y="76.6" font-size="21.2">Output layer</text>
<!-- spines -->
<rect x="59.6" y="27.8" width="319.15" height="212.80" fill="none" stroke="#111" stroke-width="1.1"/>
<!-- ticks -->
<g stroke="#111" stroke-width="1.0">
<line x1="59.6" x2="65.8" y1="240.6" y2="240.6"/>
<line x1="59.6" x2="65.8" y1="139.2" y2="139.2"/>
<line x1="59.6" x2="65.8" y1="37.9" y2="37.9"/>
<line x1="59.6" x2="62.6" y1="189.9" y2="189.9"/>
<line x1="59.6" x2="62.6" y1="88.6" y2="88.6"/>
<line x1="69.6" x2="69.6" y1="240.6" y2="234.4"/>
<line x1="150.3" x2="150.3" y1="240.6" y2="234.4"/>
<line x1="231.0" x2="231.0" y1="240.6" y2="234.4"/>
<line x1="311.7" x2="311.7" y1="240.6" y2="234.4"/>
<line x1="109.9" x2="109.9" y1="240.6" y2="237.6"/>
<line x1="190.7" x2="190.7" y1="240.6" y2="237.6"/>
<line x1="271.4" x2="271.4" y1="240.6" y2="237.6"/>
<line x1="352.1" x2="352.1" y1="240.6" y2="237.6"/>
</g>
<text x="229.3" y="14.8" font-size="22.4" text-anchor="middle">MPD-ED</text>
<text transform="translate(52.6,44.5) scale(1,1.07)" font-size="21.3" text-anchor="end">0.2</text>
<text transform="translate(52.1,146) scale(1,1.07)" font-size="21.3" text-anchor="end">0.1</text>
<text transform="translate(52.6,247.6) scale(1,1.07)" font-size="21.3" text-anchor="end">0.0</text>
<text transform="translate(69.6,264.2) scale(1,1.07)" font-size="21.3" text-anchor="middle">0.0</text>
<text transform="translate(150,264.2) scale(1,1.07)" font-size="21.3" text-anchor="middle">4.7</text>
<text transform="translate(230.9,264.2) scale(1,1.07)" font-size="21.3" text-anchor="middle">9.4</text>
<text transform="translate(311.4,264.2) scale(1,1.07)" font-size="21.3" text-anchor="middle">14.1</text>
<text x="218.85" y="288.6" font-size="22.53" text-anchor="middle">Number of gradient updates</text>
<text transform="translate(16.0,139.2) rotate(-90)" font-size="22.9" text-anchor="middle">Firing rate</text>
<path d="M380.5,226.1L389.5,235.1M389.5,226.1L380.5,235.1" stroke="#000" stroke-width="1.35" fill="none"/>
<text transform="translate(390.7,236.1) scale(1,1.07)" font-size="21.3">10</text>
<text x="411.8" y="226.8" font-size="14.4">4</text>
</svg>
</body></html>
